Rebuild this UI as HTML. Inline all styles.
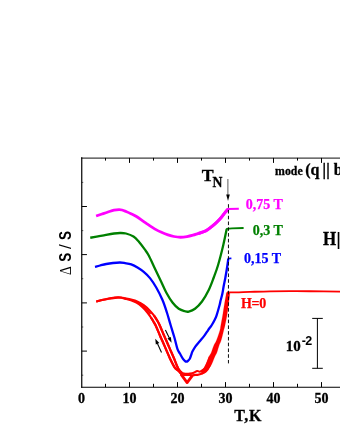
<!DOCTYPE html>
<html>
<head>
<meta charset="utf-8">
<title>Chart</title>
<style>
html,body{margin:0;padding:0;background:#ffffff;}
body{width:340px;height:440px;overflow:hidden;font-family:"Liberation Serif",serif;}
svg{display:block;will-change:transform;}
</style>
</head>
<body>
<svg width="340" height="440" viewBox="0 0 340 440">
<rect x="0" y="0" width="340" height="440" fill="#ffffff"/>
<g stroke="#000" stroke-width="1.2" fill="none" stroke-linecap="butt">
<path d="M81.75,157.30 L81.75,387.70"/>
<path d="M81.15,158.10 L341,158.10" stroke-width="0.95"/>
<path d="M81.15,387.25 L341,387.25" stroke-width="1.0"/>
</g>
<g stroke="#000" stroke-width="1" fill="none">
<path d="M105.50,157.90 v2.70"/>
<path d="M105.50,387.10 v-3.30"/>
<path d="M129.50,157.90 v5.00"/>
<path d="M129.50,387.10 v-5.00"/>
<path d="M153.50,157.90 v2.70"/>
<path d="M153.50,387.10 v-3.30"/>
<path d="M177.50,157.90 v5.00"/>
<path d="M177.50,387.10 v-5.00"/>
<path d="M201.50,157.90 v2.70"/>
<path d="M201.50,387.10 v-3.30"/>
<path d="M225.50,157.90 v5.00"/>
<path d="M225.50,387.10 v-5.00"/>
<path d="M249.50,157.90 v2.70"/>
<path d="M249.50,387.10 v-3.30"/>
<path d="M273.50,157.90 v5.00"/>
<path d="M273.50,387.10 v-5.00"/>
<path d="M297.50,157.90 v2.70"/>
<path d="M297.50,387.10 v-3.30"/>
<path d="M321.50,157.90 v5.00"/>
<path d="M321.50,387.10 v-5.00"/>
<path d="M81.75,206.50 h5.2"/>
<path d="M81.75,254.60 h5.2"/>
<path d="M81.75,302.90 h5.2"/>
<path d="M81.75,351.10 h5.2"/>
<path d="M81.75,182.40 h1.5" stroke-opacity="0.6"/>
<path d="M81.75,230.60 h1.5" stroke-opacity="0.6"/>
<path d="M81.75,278.70 h1.5" stroke-opacity="0.6"/>
<path d="M81.75,327.00 h1.5" stroke-opacity="0.6"/>
<path d="M81.75,375.20 h1.5" stroke-opacity="0.6"/>
</g>
<path d="M227.9,179 V196" stroke="#333" stroke-width="0.8" fill="none"/>
<path d="M226.2,194.6 L229.8,194.6 L228.0,201 Z" fill="#000"/>
<path d="M96.10,216.00 C97.08,215.67 100.02,214.67 102.00,214.00 C103.98,213.33 106.00,212.63 108.00,212.00 C110.00,211.37 112.17,210.60 114.00,210.20 C115.83,209.80 117.67,209.63 119.00,209.60 C120.33,209.57 120.83,209.68 122.00,210.00 C123.17,210.32 124.50,210.88 126.00,211.50 C127.50,212.12 129.33,212.91 131.00,213.70 C132.67,214.49 133.50,214.68 136.00,216.25 C138.50,217.82 142.67,220.88 146.00,223.10 C149.33,225.32 153.33,228.03 156.00,229.60 C158.67,231.17 160.00,231.63 162.00,232.50 C164.00,233.37 166.00,234.13 168.00,234.80 C170.00,235.47 171.92,236.09 174.00,236.50 C176.08,236.91 178.33,237.23 180.50,237.25 C182.67,237.27 184.92,236.94 187.00,236.60 C189.08,236.26 191.17,235.70 193.00,235.20 C194.83,234.70 196.20,234.18 198.00,233.60 C199.80,233.02 202.13,232.40 203.80,231.70 C205.47,231.00 206.53,230.37 208.00,229.40 C209.47,228.43 211.10,227.13 212.60,225.90 C214.10,224.67 215.52,223.45 217.00,222.00 C218.48,220.55 220.17,218.77 221.50,217.20 C222.83,215.63 224.02,213.85 225.00,212.60 C225.98,211.35 226.83,210.32 227.40,209.70 C227.97,209.08 228.23,209.03 228.40,208.90" stroke="#ff00ff" stroke-width="2.80" fill="none" stroke-linejoin="round" stroke-linecap="butt"/>
<path d="M198.00,233.60 C198.97,233.28 202.13,232.40 203.80,231.70 C205.47,231.00 206.53,230.37 208.00,229.40 C209.47,228.43 211.10,227.13 212.60,225.90 C214.10,224.67 215.52,223.45 217.00,222.00 C218.48,220.55 220.17,218.77 221.50,217.20 C222.83,215.63 224.02,213.85 225.00,212.60 C225.98,211.35 226.83,210.32 227.40,209.70 C227.97,209.08 228.23,209.03 228.40,208.90" stroke="#ff00ff" stroke-width="3.05" fill="none" stroke-linejoin="round" stroke-linecap="butt"/>
<path d="M227.60,209.00 L238.80,208.80" stroke="#ff00ff" stroke-width="2.00" fill="none" stroke-linejoin="round" stroke-linecap="butt"/>
<path d="M90.25,237.75 C91.54,237.51 95.38,236.79 98.00,236.30 C100.62,235.81 103.33,235.27 106.00,234.80 C108.67,234.33 111.67,233.80 114.00,233.50 C116.33,233.20 118.00,233.00 120.00,233.00 C122.00,233.00 123.75,232.92 126.00,233.50 C128.25,234.08 131.42,235.21 133.50,236.50 C135.58,237.79 136.62,239.10 138.50,241.25 C140.38,243.40 143.04,247.03 144.75,249.40 C146.46,251.78 147.14,252.48 148.75,255.50 C150.36,258.52 152.43,263.33 154.40,267.50 C156.38,271.67 158.62,276.33 160.60,280.50 C162.57,284.67 164.27,288.83 166.25,292.50 C168.23,296.17 170.42,299.79 172.50,302.50 C174.58,305.21 176.67,307.29 178.75,308.75 C180.83,310.21 183.33,310.77 185.00,311.25 C186.67,311.73 187.08,312.02 188.75,311.60 C190.42,311.18 192.79,310.43 195.00,308.75 C197.21,307.07 199.71,304.62 202.00,301.50 C204.29,298.38 206.79,294.00 208.75,290.00 C210.71,286.00 212.19,281.67 213.75,277.50 C215.31,273.33 216.51,270.42 218.10,265.00 C219.69,259.58 221.87,251.00 223.30,245.00 C224.73,239.00 226.13,231.67 226.70,229.00" stroke="#008000" stroke-width="2.30" fill="none" stroke-linejoin="round" stroke-linecap="butt"/>
<path d="M226.20,228.90 L232.00,228.40 L243.60,228.00" stroke="#008000" stroke-width="1.80" fill="none" stroke-linejoin="round" stroke-linecap="butt"/>
<path d="M95.00,266.90 C95.83,266.67 98.12,265.98 100.00,265.50 C101.88,265.02 104.08,264.42 106.25,264.00 C108.42,263.58 110.71,263.25 113.00,263.00 C115.29,262.75 118.00,262.48 120.00,262.50 C122.00,262.52 123.12,262.78 125.00,263.10 C126.88,263.42 129.17,263.67 131.25,264.40 C133.33,265.13 135.42,266.25 137.50,267.50 C139.58,268.75 141.67,270.13 143.75,271.90 C145.83,273.67 147.92,275.50 150.00,278.10 C152.08,280.70 154.17,283.85 156.25,287.50 C158.33,291.15 160.72,295.83 162.50,300.00 C164.28,304.17 165.55,308.33 166.90,312.50 C168.25,316.67 169.35,320.83 170.60,325.00 C171.85,329.17 173.25,333.48 174.40,337.50 C175.55,341.52 176.58,346.43 177.50,349.10 C178.42,351.77 178.98,351.87 179.90,353.50 C180.82,355.13 182.17,357.67 183.00,358.90 C183.83,360.13 184.37,360.43 184.90,360.90 C185.43,361.37 185.72,361.68 186.20,361.70 C186.68,361.72 187.20,361.50 187.80,361.00 C188.40,360.50 189.25,359.67 189.80,358.70 C190.35,357.73 190.67,356.38 191.10,355.20 C191.53,354.02 191.67,353.08 192.40,351.60 C193.13,350.12 194.23,348.07 195.50,346.30 C196.77,344.53 198.52,342.78 200.00,341.00 C201.48,339.22 203.07,337.38 204.40,335.60 C205.73,333.82 207.07,331.65 208.00,330.30 C208.93,328.95 209.37,328.38 210.00,327.50 C210.63,326.62 211.03,326.25 211.80,325.00 C212.57,323.75 213.80,321.62 214.60,320.00 C215.40,318.38 215.77,317.80 216.60,315.30 C217.43,312.80 218.93,307.47 219.60,305.00 C220.27,302.53 220.15,302.33 220.60,300.50 C221.05,298.67 221.78,296.42 222.30,294.00 C222.82,291.58 223.18,288.75 223.70,286.00 C224.22,283.25 224.80,280.83 225.40,277.50 C226.00,274.17 226.82,269.15 227.30,266.00 C227.78,262.85 228.13,259.83 228.30,258.60" stroke="#0000ff" stroke-width="2.30" fill="none" stroke-linejoin="round" stroke-linecap="butt"/>
<path d="M227.80,258.50 L231.40,258.40" stroke="#0000ff" stroke-width="1.60" fill="none" stroke-linejoin="round" stroke-linecap="butt"/>
<path d="M96.23,301.47 C97.19,301.21 99.90,300.42 101.98,299.92 C104.06,299.42 106.56,298.88 108.73,298.48 C110.90,298.09 113.44,297.75 114.98,297.55 C116.53,297.35 116.95,297.32 118.00,297.30 C119.05,297.28 120.10,297.28 121.28,297.42 C122.45,297.56 123.42,297.81 125.06,298.16 C126.69,298.51 129.09,298.97 131.10,299.52 C133.12,300.06 135.02,300.48 137.13,301.43 C139.23,302.38 141.66,303.72 143.75,305.21 C145.84,306.71 147.96,308.70 149.65,310.41 C151.33,312.11 152.66,313.85 153.87,315.46 C155.08,317.06 155.99,318.53 156.91,320.04 C157.82,321.55 158.25,322.15 159.35,324.52 C160.44,326.89 162.41,331.80 163.47,334.26 C164.53,336.71 164.68,336.90 165.71,339.25 C166.74,341.60 168.35,345.32 169.67,348.36 C170.98,351.39 172.29,354.30 173.62,357.46 C174.94,360.61 176.62,365.14 177.60,367.30 C178.58,369.46 178.83,369.52 179.50,370.40 C180.17,371.28 180.85,372.08 181.60,372.60 C182.35,373.12 183.10,373.32 184.00,373.50 C184.90,373.68 186.00,373.70 187.00,373.70 C188.00,373.70 188.88,373.67 190.00,373.50 C191.12,373.33 192.50,373.12 193.70,372.70 C194.90,372.28 196.18,371.17 197.20,371.00 C198.22,370.83 198.92,371.80 199.80,371.70 C200.68,371.60 201.58,371.05 202.50,370.40 C203.42,369.75 204.47,368.95 205.30,367.80 C206.13,366.65 206.75,365.33 207.50,363.50 C208.25,361.67 209.42,357.92 209.80,356.80" stroke="#ff0000" stroke-width="2.10" fill="none" stroke-linejoin="round" stroke-linecap="butt"/>
<path d="M96.27,301.63 C97.23,301.37 99.94,300.56 102.02,300.08 C104.10,299.59 106.60,299.09 108.77,298.72 C110.94,298.35 113.48,298.03 115.02,297.85 C116.56,297.67 116.97,297.67 118.00,297.66 C119.04,297.65 120.07,297.65 121.22,297.82 C122.38,297.98 123.33,298.25 124.94,298.64 C126.56,299.04 128.97,299.51 130.90,300.18 C132.82,300.86 134.58,301.52 136.47,302.67 C138.37,303.82 140.44,305.45 142.25,307.09 C144.06,308.72 145.91,310.75 147.35,312.49 C148.80,314.24 149.88,315.97 150.93,317.54 C151.99,319.12 152.86,320.54 153.69,321.96 C154.53,323.38 154.90,323.79 155.95,326.08 C157.01,328.38 158.98,333.30 160.03,335.74 C161.09,338.19 161.25,338.40 162.29,340.75 C163.32,343.10 164.92,346.81 166.23,349.84 C167.55,352.88 168.79,356.04 170.18,358.94 C171.58,361.85 173.20,365.29 174.60,367.30 C176.00,369.31 177.45,369.83 178.60,371.00 C179.75,372.17 181.02,373.75 181.50,374.30" stroke="#ff0000" stroke-width="2.10" fill="none" stroke-linejoin="round" stroke-linecap="butt"/>
<path d="M153.87,315.46 C154.37,316.22 155.99,318.53 156.91,320.04 C157.82,321.55 158.25,322.15 159.35,324.52 C160.44,326.89 162.41,331.80 163.47,334.26 C164.53,336.71 164.68,336.90 165.71,339.25 C166.74,341.60 168.35,345.32 169.67,348.36 C170.98,351.39 172.29,354.30 173.62,357.46 C174.94,360.61 176.62,365.14 177.60,367.30 C178.58,369.46 178.83,369.52 179.50,370.40 C180.17,371.28 181.25,372.23 181.60,372.60" stroke="#ff0000" stroke-width="2.25" fill="none" stroke-linejoin="round" stroke-linecap="butt"/>
<path d="M150.93,317.54 C151.39,318.28 152.86,320.54 153.69,321.96 C154.53,323.38 154.90,323.79 155.95,326.08 C157.01,328.38 158.98,333.30 160.03,335.74 C161.09,338.19 161.25,338.40 162.29,340.75 C163.32,343.10 164.92,346.81 166.23,349.84 C167.55,352.88 168.79,356.04 170.18,358.94 C171.58,361.85 173.20,365.29 174.60,367.30 C176.00,369.31 177.45,369.83 178.60,371.00 C179.75,372.17 181.02,373.75 181.50,374.30" stroke="#ff0000" stroke-width="2.25" fill="none" stroke-linejoin="round" stroke-linecap="butt"/>
<path d="M180.90,374.20 L187.10,382.60 L192.50,375.30" stroke="#ff0000" stroke-width="2.80" fill="none" stroke-linejoin="round" stroke-linecap="butt"/>
<path d="M192.00,375.40 C192.50,375.32 194.08,375.00 195.00,374.90 C195.92,374.80 196.55,374.95 197.50,374.80 C198.45,374.65 199.70,374.33 200.70,374.00 C201.70,373.67 202.62,373.27 203.50,372.80 C204.38,372.33 205.15,372.07 206.00,371.20 C206.85,370.33 207.50,369.97 208.60,367.60 C209.70,365.23 211.93,358.77 212.60,357.00" stroke="#ff0000" stroke-width="2.20" fill="none" stroke-linejoin="round" stroke-linecap="butt"/>
<path d="M134.00,300.90 C134.47,301.09 135.30,301.18 136.80,302.05 C138.30,302.93 141.05,304.58 143.00,306.15 C144.95,307.72 147.25,310.14 148.50,311.45 C149.75,312.76 150.17,313.57 150.50,314.00" stroke="#ff0000" stroke-width="1.60" fill="none" stroke-linejoin="round" stroke-linecap="butt"/>
<path d="M180.50,373.20 C180.92,373.47 181.92,374.50 183.00,374.80 C184.08,375.10 185.83,374.97 187.00,375.00 C188.17,375.03 189.17,374.93 190.00,375.00 C190.83,375.07 191.67,375.33 192.00,375.40" stroke="#ff0000" stroke-width="2.00" fill="none" stroke-linejoin="round" stroke-linecap="butt"/>
<path d="M226.40,292.60 C226.33,293.03 226.30,293.47 226.00,295.20 C225.70,296.93 225.15,299.70 224.60,303.00 C224.05,306.30 223.35,311.18 222.70,315.00 C222.05,318.82 221.15,323.40 220.70,325.90 C220.25,328.40 220.68,327.65 220.00,330.00 C219.32,332.35 217.63,337.42 216.60,340.00 C215.57,342.58 214.69,343.42 213.80,345.50 C212.91,347.58 212.07,350.62 211.25,352.50 C210.43,354.38 209.88,354.72 208.90,356.80 C207.93,358.88 206.35,363.03 205.40,365.00 C204.45,366.97 203.97,367.67 203.20,368.60 C202.43,369.53 201.20,370.27 200.80,370.60 L202.30,374.30 C203.08,373.68 205.50,372.15 207.00,370.60 C208.50,369.05 210.00,367.30 211.30,365.00 C212.60,362.70 213.87,358.88 214.80,356.80 C215.73,354.72 216.18,354.38 216.90,352.50 C217.62,350.62 218.38,347.58 219.10,345.50 C219.82,343.42 220.47,342.58 221.25,340.00 C222.03,337.42 223.19,332.35 223.80,330.00 C224.41,327.65 224.38,328.28 224.90,325.90 C225.42,323.52 226.32,319.12 226.90,315.70 C227.48,312.28 227.93,308.82 228.40,305.40 C228.87,301.98 229.45,297.33 229.70,295.20 C229.95,293.07 229.87,293.03 229.90,292.60 Z" fill="#ff0000" stroke="#ff0000" stroke-width="0.2" stroke-linejoin="round"/>
<path d="M227.00,292.30 C228.50,292.32 232.17,292.47 236.00,292.40 C239.83,292.33 244.33,292.08 250.00,291.90 C255.67,291.72 263.33,291.43 270.00,291.30 C276.67,291.17 283.33,291.12 290.00,291.10 C296.67,291.08 301.50,291.10 310.00,291.20 C318.50,291.30 335.83,291.62 341.00,291.70" stroke="#ff0000" stroke-width="1.85" fill="none" stroke-linejoin="round" stroke-linecap="butt"/>
<path d="M228.45,204.2 V363.4" stroke="#000" stroke-width="0.95" stroke-dasharray="3.6 2.17" fill="none"/>
<path d="M165.4,329.9 L169.6,338.6" stroke="#000" stroke-width="1.05" fill="none"/>
<path d="M171.6,342.7 L167.5,338.6 L170.9,336.9 Z" fill="#000"/>
<path d="M161.5,352.5 L157.2,343.0" stroke="#000" stroke-width="1.05" fill="none"/>
<path d="M155.3,338.8 L155.8,344.6 L159.3,343.0 Z" fill="#000"/>
<path d="M317.4,318.4 V368.3 M312.2,318.4 H322.8 M312.2,368.3 H322.8" stroke="#000" stroke-width="1" fill="none"/>
<text x="81.50" y="403.40" font-family="'Liberation Serif', serif" font-weight="bold" font-size="14.00px" fill="#000" text-anchor="middle" stroke="#000" stroke-width="0.3">0</text>
<text x="129.50" y="403.40" font-family="'Liberation Serif', serif" font-weight="bold" font-size="14.00px" fill="#000" text-anchor="middle" stroke="#000" stroke-width="0.3">10</text>
<text x="177.50" y="403.40" font-family="'Liberation Serif', serif" font-weight="bold" font-size="14.00px" fill="#000" text-anchor="middle" stroke="#000" stroke-width="0.3">20</text>
<text x="225.50" y="403.40" font-family="'Liberation Serif', serif" font-weight="bold" font-size="14.00px" fill="#000" text-anchor="middle" stroke="#000" stroke-width="0.3">30</text>
<text x="273.50" y="403.40" font-family="'Liberation Serif', serif" font-weight="bold" font-size="14.00px" fill="#000" text-anchor="middle" stroke="#000" stroke-width="0.3">40</text>
<text x="321.50" y="403.40" font-family="'Liberation Serif', serif" font-weight="bold" font-size="14.00px" fill="#000" text-anchor="middle" stroke="#000" stroke-width="0.3">50</text>
<text x="234.20" y="420.60" font-family="'Liberation Serif', serif" font-weight="bold" font-size="16.00px" fill="#000" text-anchor="start" letter-spacing="0.7" stroke="#000" stroke-width="0.3">T,K</text>
<text x="245.70" y="209.00" font-family="'Liberation Serif', serif" font-weight="bold" font-size="14.00px" fill="#ff00ff" text-anchor="start" stroke="#ff00ff" stroke-width="0.25">0,75 T</text>
<text x="252.70" y="235.10" font-family="'Liberation Serif', serif" font-weight="bold" font-size="14.00px" fill="#008000" text-anchor="start" stroke="#008000" stroke-width="0.25">0,3 T</text>
<text x="244.10" y="263.10" font-family="'Liberation Serif', serif" font-weight="bold" font-size="14.00px" fill="#0000ff" text-anchor="start" stroke="#0000ff" stroke-width="0.25">0,15 T</text>
<text x="240.90" y="307.70" font-family="'Liberation Serif', serif" font-weight="bold" font-size="14.00px" fill="#ff0000" text-anchor="start" stroke="#ff0000" stroke-width="0.25" letter-spacing="-0.2">H=0</text>
<text x="201.70" y="180.80" font-family="'Liberation Serif', serif" font-weight="bold" font-size="16.60px" fill="#000" text-anchor="start" textLength="11.9" lengthAdjust="spacingAndGlyphs" stroke="#000" stroke-width="0.3">T</text>
<text x="212.60" y="187.10" font-family="'Liberation Serif', serif" font-weight="bold" font-size="13.70px" fill="#000" text-anchor="start" stroke="#000" stroke-width="0.3">N</text>
<text x="275.00" y="175.30" font-family="'Liberation Serif', serif" font-weight="bold" font-size="11.80px" fill="#000" text-anchor="start" textLength="27.7" lengthAdjust="spacing" stroke="#000" stroke-width="0.3">mode</text>
<text x="305.30" y="175.30" font-family="'Liberation Serif', serif" font-weight="bold" font-size="16.00px" fill="#000" text-anchor="start" stroke="#000" stroke-width="0.3">(</text>
<text x="310.40" y="175.30" font-family="'Liberation Serif', serif" font-weight="bold" font-size="16.00px" fill="#000" text-anchor="start" stroke="#000" stroke-width="0.3">q</text>
<text x="322.40" y="175.30" font-family="'Liberation Serif', serif" font-weight="bold" font-size="16.00px" fill="#000" text-anchor="start" stroke="#000" stroke-width="0.35">|</text>
<text x="326.30" y="175.30" font-family="'Liberation Serif', serif" font-weight="bold" font-size="16.00px" fill="#000" text-anchor="start" stroke="#000" stroke-width="0.35">|</text>
<text x="333.70" y="175.30" font-family="'Liberation Serif', serif" font-weight="bold" font-size="16.00px" fill="#000" text-anchor="start" stroke="#000" stroke-width="0.3">b</text>
<text x="322.90" y="245.40" font-family="'Liberation Serif', serif" font-weight="bold" font-size="18.30px" fill="#000" text-anchor="start" textLength="13.2" lengthAdjust="spacingAndGlyphs" stroke="#000" stroke-width="0.3">H</text>
<text x="336.50" y="245.40" font-family="'Liberation Serif', serif" font-weight="bold" font-size="18.50px" fill="#000" text-anchor="start" stroke="#000" stroke-width="0.2">|</text>
<text x="285.70" y="350.80" font-family="'Liberation Serif', serif" font-weight="bold" font-size="15.00px" fill="#000" text-anchor="start" stroke="#000" stroke-width="0.3">10</text>
<text x="301.7" y="344.7" font-family="'Liberation Sans', sans-serif" font-weight="bold" font-size="12.5px" fill="#000" textLength="10.6" lengthAdjust="spacing">-2</text>
<text transform="translate(71.00,275.00) rotate(-90) scale(0.850,1)" font-family="'Liberation Serif', sans-serif" font-weight="normal" font-size="16.00px" fill="#000">&#916;</text>
<text transform="translate(71.00,261.80) rotate(-90) scale(0.780,1)" font-family="'Liberation Sans', sans-serif" font-weight="bold" font-size="17.30px" fill="#000">S</text>
<text transform="translate(71.00,248.90) rotate(-90) scale(1.000,1)" font-family="'Liberation Sans', sans-serif" font-weight="normal" font-size="17.00px" fill="#000">/</text>
<text transform="translate(71.00,240.10) rotate(-90) scale(0.780,1)" font-family="'Liberation Sans', sans-serif" font-weight="bold" font-size="17.30px" fill="#000">S</text>
</svg>
</body>
</html>
